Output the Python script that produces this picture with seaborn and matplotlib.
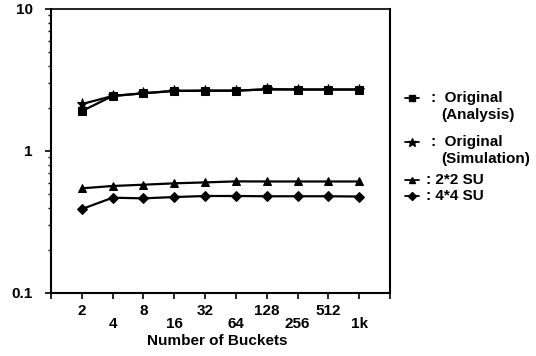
import matplotlib
matplotlib.use("Agg")
import matplotlib.pyplot as plt
import matplotlib.transforms as mtransforms
from matplotlib.lines import Line2D
import numpy as np
import pandas as pd
import seaborn as sns

sns.set_theme(style="white")
plt.rcParams["font.family"] = ["Liberation Sans", "DejaVu Sans"]
plt.rcParams["font.weight"] = "bold"

# Bucket counts along the x axis
buckets = ["2", "4", "8", "16", "32", "64", "128", "256", "512", "1k"]

# Series values (log scale on y)
original_analysis = [1.91, 2.44, 2.55, 2.65, 2.66, 2.66, 2.72, 2.71, 2.71, 2.71]
original_simulation = [2.14, 2.44, 2.55, 2.65, 2.66, 2.66, 2.72, 2.71, 2.71, 2.71]
su_2x2 = [0.546, 0.567, 0.579, 0.592, 0.601, 0.611, 0.61, 0.61, 0.61, 0.61]
su_4x4 = [0.39, 0.469, 0.464, 0.474, 0.482, 0.482, 0.48, 0.48, 0.48, 0.478]

series_names = [["Original", "(Analysis)"], ["Original", "(Simulation)"], ["2*2 SU"], ["4*4 SU"]]
series_values = [original_analysis, original_simulation, su_2x2, su_4x4]
series_markers = ["s", "*", "^", "D"]
series_sizes = [5.5, 8, 6, 5]

W, H = 536, 356
positions = np.arange(1, len(buckets) + 1)

fig = plt.figure(figsize=(W / 100, H / 100), dpi=100)
ax = fig.add_axes([51 / W, 1 - 293 / H, (390 - 51) / W, (293 - 9) / H])

for vals, mk, ms in zip(series_values, series_markers, series_sizes):
    df = pd.DataFrame({"pos": positions, "val": vals})
    sns.lineplot(data=df, x="pos", y="val", ax=ax, color="black", linewidth=1.6,
                 marker=mk, markersize=ms, markeredgecolor="black",
                 markerfacecolor="black", legend=False)

ax.set_yscale("log")
ax.set_ylim(0.1, 10)
ax.set_xlim(0, len(buckets) + 1)

ax.set_yticks([0.1, 1, 10])
ax.set_yticklabels(["0.1", "1", "10"])
ax.yaxis.set_minor_locator(matplotlib.ticker.LogLocator(base=10, subs=np.arange(2, 10)))
ax.yaxis.set_minor_formatter(matplotlib.ticker.NullFormatter())

ax.set_xticks(np.arange(0, len(buckets) + 2))
ax.set_xticklabels([""] + buckets + [""])

ax.tick_params(axis="both", which="major", direction="out", length=4, width=1.2,
               color="black", labelsize=11, labelcolor="black", pad=3)
ax.tick_params(axis="y", which="minor", direction="out", length=2.5, width=1,
               color="black", left=True)
ax.tick_params(axis="x", which="major", bottom=True, pad=4)
ax.tick_params(axis="y", which="major", left=True, pad=9)

# stagger the x tick labels: every second one sits lower
for i, lbl in enumerate(ax.get_xticklabels()):
    if i % 2 == 0 and 0 < i <= len(buckets):
        offset = mtransforms.ScaledTranslation(0, -9 / 72, fig.dpi_scale_trans)
        lbl.set_transform(lbl.get_transform() + offset)

for side in ["left", "right", "top", "bottom"]:
    ax.spines[side].set_visible(True)
    ax.spines[side].set_color("black")
    ax.spines[side].set_linewidth(1.5)
ax.spines["top"].set_linewidth(1.2)

ax.set_xlabel("Number of Buckets", fontsize=11, color="black", fontweight="bold")
ax.xaxis.set_label_coords(0.49, -0.143)
ax.set_ylabel("")

# key to the right of the plot
def fx(px):
    return px / W

def fy(py):
    return 1 - py / H

row_y = [[98, 115], [142, 159], [180], [196]]
for name_lines, mk, ms, ys in zip(series_names, series_markers, series_sizes, row_y):
    y0 = ys[0]
    fig.add_artist(Line2D([fx(405), fx(419)], [fy(y0), fy(y0)], color="black",
                          linewidth=1.3, transform=fig.transFigure))
    fig.add_artist(Line2D([fx(412)], [fy(y0)], marker=mk, markersize=ms * 0.8,
                          color="black", transform=fig.transFigure))
    if len(name_lines) > 1:
        fig.text(fx(431), fy(y0), ":  " + name_lines[0], fontsize=11,
                 fontweight="bold", color="black", va="center", ha="left")
        fig.text(fx(441), fy(ys[1]), name_lines[1], fontsize=11, fontweight="bold",
                 color="black", va="center", ha="left")
    else:
        fig.text(fx(426), fy(y0), ": " + name_lines[0], fontsize=11,
                 fontweight="bold", color="black", va="center", ha="left")

fig.savefig("out.png", dpi=100)
